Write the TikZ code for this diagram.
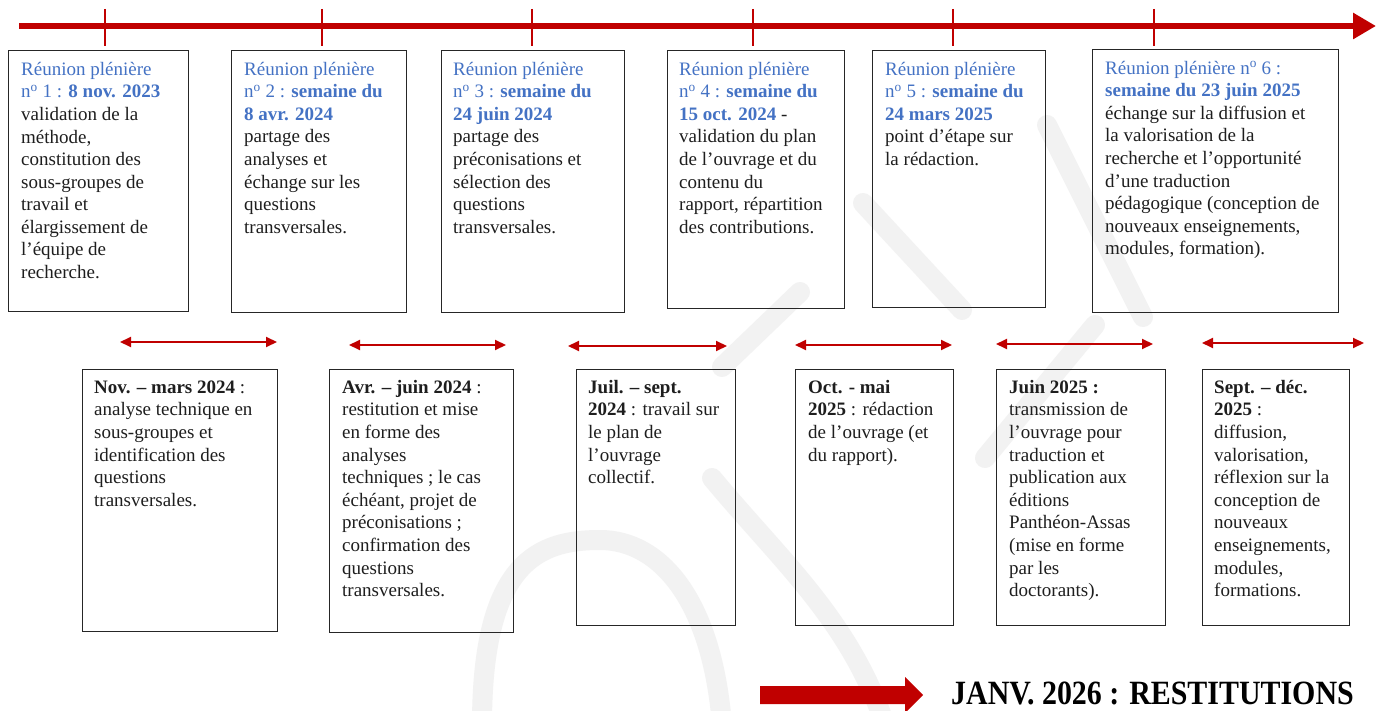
\documentclass[tikz,border=0pt]{standalone}
\usepackage{fontspec}
\setmainfont{Liberation Serif}
\usetikzlibrary{arrows.meta}
\definecolor{tlred}{HTML}{C00000}
\definecolor{tlblue}{HTML}{4472C4}
\definecolor{txtc}{HTML}{1E1E1E}
\definecolor{wmgray}{HTML}{F2F2F2}
\newcommand{\blu}[1]{\textcolor{tlblue}{#1}}
\newcommand{\bblu}[1]{\textcolor{tlblue}{\bfseries #1}}
\newcommand{\nro}{n\textsuperscript{o}}
\newcommand{\fst}{\rule{0pt}{16pt}}
\tikzset{
  boxnode/.style={draw=black!85, line width=1.2pt, fill=none, inner sep=0pt, anchor=north west},
  txt/.style={font=\fontsize{19}{22.6}\selectfont, text=txtc, align=left, inner sep=0pt, anchor=north west},
  tick/.style={draw=tlred, line width=2.5pt},
  span/.style={draw=tlred, line width=2pt, {Triangle[length=11pt,width=10pt]}-{Triangle[length=11pt,width=10pt]}},
  wm/.style={draw=wmgray, line width=20pt, line cap=round}
}
\begin{document}
\begin{tikzpicture}[x=1pt,y=-1pt]
\fill[white] (0,0) rectangle (1381,711);
\useasboundingbox (0,0) rectangle (1381,711);
% faint watermark
\begin{scope}
\clip (0,0) rectangle (1381,711);
\draw[wm] (482,725) .. controls (482,560) and (540,540) .. (600,540) .. controls (660,540) and (712,600) .. (722,725);
\draw[wm] (712,478) .. controls (780,560) and (850,620) .. (885,725);
\draw[wm] (863,203) -- (962,310);
\draw[wm] (800,292) -- (722,367);
\draw[wm] (1047,125) -- (1143,317);
\draw[wm] (985,458) -- (1095,325);
\end{scope}
% timeline
\coordinate (tlL) at (19,26);
\coordinate (tlR) at (1376,26);
\draw[draw=tlred, line width=6pt, -{Triangle[length=23pt,width=25pt]}] (tlL) -- (tlR);
\foreach \i/\x in {1/105,2/322,3/532,4/753,5/953,6/1154}{
  \coordinate (ka\i) at (\x,9);
  \coordinate (kb\i) at (\x,46);
  \draw[tick] (ka\i) -- (kb\i);
}
% top boxes
\node[boxnode, minimum width=180, minimum height=261] (b1) at (8,50) {};
\node[boxnode, minimum width=175, minimum height=262] (b2) at (231,50) {};
\node[boxnode, minimum width=183, minimum height=262] (b3) at (441,50) {};
\node[boxnode, minimum width=177, minimum height=258] (b4) at (667,50) {};
\node[boxnode, minimum width=173, minimum height=257] (b5) at (872,50) {};
\node[boxnode, minimum width=246, minimum height=263] (b6) at (1092,49) {};
\node[txt] (b1t) at ([shift={(13,9)}]b1.north west) {\fst\blu{Réunion plénière}\\\blu{\nro{} 1 : }\bblu{8 nov. 2023}\\validation de la\\méthode,\\constitution des\\sous-groupes de\\travail et\\élargissement de\\l’équipe de\\recherche.};
\node[txt] (b2t) at ([shift={(13,9)}]b2.north west) {\fst\blu{Réunion plénière}\\\blu{\nro{} 2 : }\bblu{semaine du}\\\bblu{8 avr. 2024}\\partage des\\analyses et\\échange sur les\\questions\\transversales.};
\node[txt] (b3t) at ([shift={(12,9)}]b3.north west) {\fst\blu{Réunion plénière}\\\blu{\nro{} 3 : }\bblu{semaine du}\\\bblu{24 juin 2024}\\partage des\\préconisations et\\sélection des\\questions\\transversales.};
\node[txt] (b4t) at ([shift={(12,9)}]b4.north west) {\fst\blu{Réunion plénière}\\\blu{\nro{} 4 : }\bblu{semaine du}\\\bblu{15 oct. 2024} -\\validation du plan\\de l’ouvrage et du\\contenu du\\rapport, répartition\\des contributions.};
\node[txt] (b5t) at ([shift={(13,9)}]b5.north west) {\fst\blu{Réunion plénière}\\\blu{\nro{} 5 : }\bblu{semaine du}\\\bblu{24 mars 2025}\\point d’étape sur\\la rédaction.};
\node[txt] (b6t) at ([shift={(13,9)}]b6.north west) {\fst\blu{Réunion plénière \nro{} 6 :}\\\bblu{semaine du 23 juin 2025}\\échange sur la diffusion et\\la valorisation de la\\recherche et l’opportunité\\d’une traduction\\pédagogique (conception de\\nouveaux enseignements,\\modules, formation).};
% spans
\foreach \i/\xa/\xb/\y in {1/120/277/342,2/349/506/345,3/568/727/346,4/795/952/345,5/996/1153/344,6/1202/1364/343}{
  \coordinate (sa\i) at (\xa,\y);
  \coordinate (sb\i) at (\xb,\y);
  \draw[span] (sa\i) -- (sb\i);
}
% bottom boxes
\node[boxnode, minimum width=195, minimum height=262] (c1) at (82,369) {};
\node[boxnode, minimum width=184, minimum height=263] (c2) at (329,369) {};
\node[boxnode, minimum width=159, minimum height=256] (c3) at (576,369) {};
\node[boxnode, minimum width=158, minimum height=256] (c4) at (795,369) {};
\node[boxnode, minimum width=169, minimum height=256] (c5) at (996,369) {};
\node[boxnode, minimum width=147, minimum height=256] (c6) at (1202,369) {};
\node[txt] (c1t) at ([shift={(12,8)}]c1.north west) {\fst\textbf{Nov. – mars 2024} :\\analyse technique en\\sous-groupes et\\identification des\\questions\\transversales.};
\node[txt] (c2t) at ([shift={(13,8)}]c2.north west) {\fst\textbf{Avr. – juin 2024} :\\restitution et mise\\en forme des\\analyses\\techniques ; le cas\\échéant, projet de\\préconisations ;\\confirmation des\\questions\\transversales.};
\node[txt] (c3t) at ([shift={(12,8)}]c3.north west) {\fst\textbf{Juil. – sept.}\\\textbf{2024} : travail sur\\le plan de\\l’ouvrage\\collectif.};
\node[txt] (c4t) at ([shift={(13,8)}]c4.north west) {\fst\textbf{Oct. - mai}\\\textbf{2025} : rédaction\\de l’ouvrage (et\\du rapport).};
\node[txt] (c5t) at ([shift={(13,8)}]c5.north west) {\fst\textbf{Juin 2025 :}\\transmission de\\l’ouvrage pour\\traduction et\\publication aux\\éditions\\Panthéon-Assas\\(mise en forme\\par les\\doctorants).};
\node[txt] (c6t) at ([shift={(12,8)}]c6.north west) {\fst\textbf{Sept. – déc.}\\\textbf{2025} :\\diffusion,\\valorisation,\\réflexion sur la\\conception de\\nouveaux\\enseignements,\\modules,\\formations.};
% final arrow and label
\fill[tlred] (760,686) -- (905,686) -- (905,677) -- (923,695) -- (905,713) -- (905,704) -- (760,704) -- cycle;
\node[font=\bfseries\fontsize{34}{36}\selectfont, text=black, inner sep=0pt, anchor=base west, xscale=0.88] (fin) at (951,704) {JANV. 2026 : RESTITUTIONS};
\end{tikzpicture}
\end{document}
